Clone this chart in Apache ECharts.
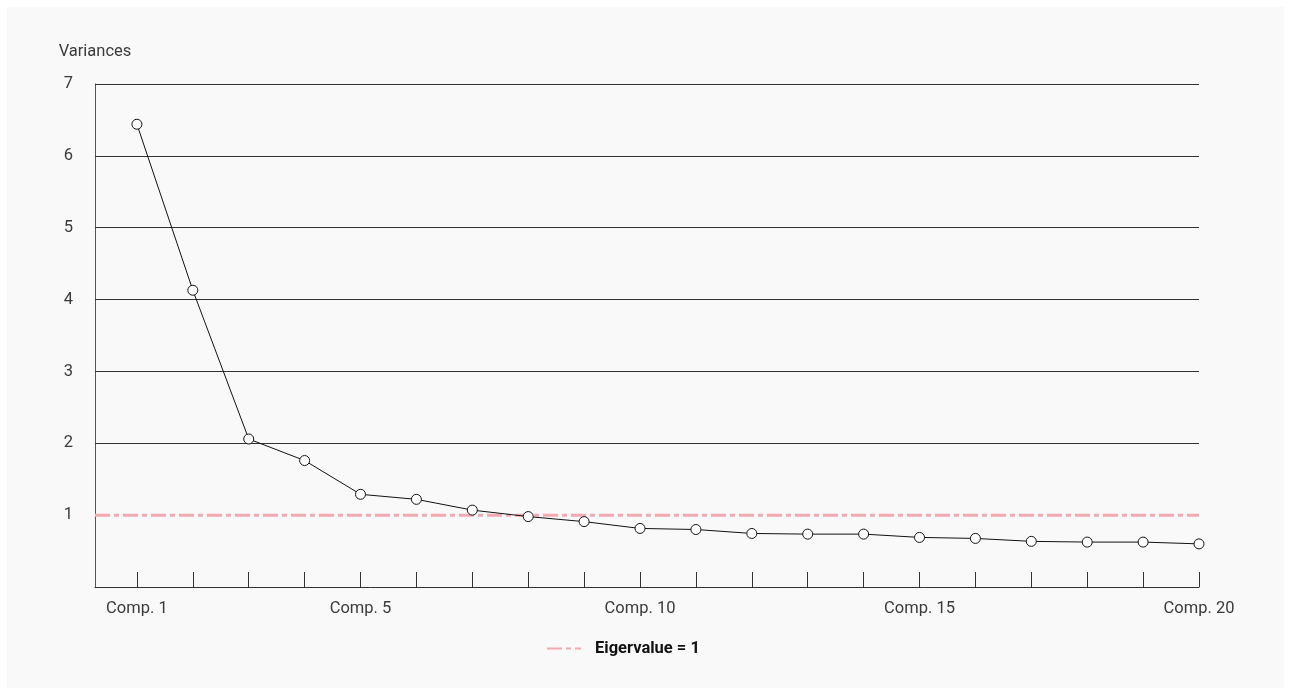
<!DOCTYPE html>
<html>
<head>
<meta charset="utf-8">
<script src="https://cdn.jsdelivr.net/npm/echarts@6/dist/echarts.min.js"></script>
<style>
  html, body { margin: 0; padding: 0; background: #ffffff; }
  #frame { position: absolute; left: 7px; top: 7px; width: 1277px; height: 681px; background: #f9f9f9; }
  #chart { position: absolute; left: 0; top: 0; width: 1291px; height: 695px; }
</style>
</head>
<body>
<div id="frame"></div>
<div id="chart"></div>
<script>
// Scree plot: variance of each principal component
const components = [1, 2, 3, 4, 5, 6, 7, 8, 9, 10, 11, 12, 13, 14, 15, 16, 17, 18, 19, 20];
const variances = [6.44, 4.13, 2.06, 1.76, 1.29, 1.22, 1.07, 0.98, 0.91, 0.815,
                   0.80, 0.745, 0.736, 0.736, 0.69, 0.676, 0.635, 0.625, 0.625, 0.60];
const labelledComponents = [1, 5, 10, 15, 20];
const yTicks = [1, 2, 3, 4, 5, 6, 7];
const gridValues = [2, 3, 4, 5, 6, 7];
const eigenThreshold = 1;
const xRange = [0.25, 20];
const thresholdName = 'Eigervalue = 1';

const chart = echarts.init(document.getElementById('chart'), null, { renderer: 'canvas' });
const font = 'Roboto, "Noto Sans", sans-serif';
const pink = '#f4a9b1';
const fs = 16.5;

chart.setOption({
  backgroundColor: 'transparent',
  animation: false,
  textStyle: { fontFamily: font },
  grid: { left: 95, right: 92, top: 84, bottom: 108, containLabel: false },
  legend: {
    data: [thresholdName],
    left: 541, top: 635,
    itemWidth: 34, itemHeight: 16,
    itemStyle: { opacity: 0 },
    textStyle: { fontFamily: font, fontSize: fs, fontWeight: 'bold', color: '#111', padding: [0, 0, 0, 9] }
  },
  xAxis: {
    type: 'value',
    min: xRange[0], max: xRange[1],
    splitLine: { show: false },
    axisLine: { show: true, lineStyle: { color: '#333', width: 1 } },
    axisTick: { show: true, inside: true, length: 15, customValues: components, lineStyle: { color: '#333', width: 1 } },
    axisLabel: {
      customValues: labelledComponents,
      formatter: v => 'Comp. ' + v,
      margin: 13, fontSize: fs, color: '#3a3a3a', fontFamily: font
    }
  },
  yAxis: {
    type: 'value',
    min: 0, max: 7, interval: 1,
    name: 'Variances',
    nameLocation: 'end',
    nameGap: 24,
    nameTextStyle: { fontSize: fs, color: '#3a3a3a', fontFamily: font, align: 'center' },
    splitLine: { show: false },
    axisLine: { show: true, lineStyle: { color: '#555', width: 1 } },
    axisTick: { show: false, customValues: yTicks },
    axisLabel: { customValues: yTicks, margin: 22, fontSize: fs, color: '#3a3a3a', fontFamily: font }
  },
  series: [
    {
      // horizontal reference lines at each labelled variance above 1
      type: 'line',
      data: [],
      silent: true,
      markLine: {
        silent: true,
        symbol: 'none',
        label: { show: false },
        lineStyle: { color: '#333', width: 1, type: 'solid' },
        data: gridValues.map(v => ({ yAxis: v }))
      }
    },
    {
      name: thresholdName,
      type: 'line',
      data: [[xRange[0], eigenThreshold], [xRange[1], eigenThreshold]],
      symbol: 'none',
      silent: true,
      lineStyle: { color: pink, width: 3, type: [15, 4, 5, 4] },
      itemStyle: { color: pink },
      z: 3
    },
    {
      name: 'Variances',
      type: 'line',
      data: components.map((c, i) => [c, variances[i]]),
      symbol: 'circle',
      symbolSize: 10,
      lineStyle: { color: '#111', width: 1 },
      itemStyle: { color: '#ffffff', borderColor: '#111', borderWidth: 1 },
      z: 5
    }
  ]
});
</script>
</body>
</html>
